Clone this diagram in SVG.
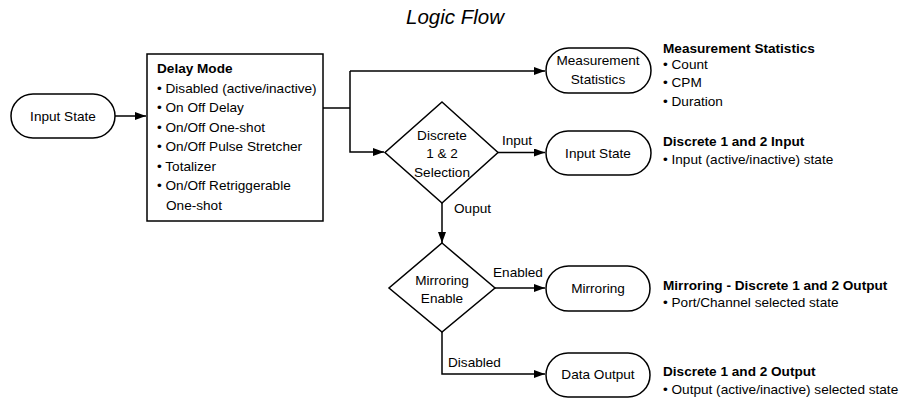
<svg xmlns="http://www.w3.org/2000/svg" width="902" height="398" viewBox="0 0 902 398">
<defs>
<style>
text{font-family:"Liberation Sans",Arial,sans-serif;font-size:13.6px;fill:#000}
.c{text-anchor:middle}
.b{font-weight:bold}
.title{font-size:20.5px;font-style:italic}
.shape{fill:#fff;stroke:#000;stroke-width:1.5}
.conn{fill:none;stroke:#000;stroke-width:1.5}
</style>
<marker id="ah" markerUnits="userSpaceOnUse" markerWidth="12" markerHeight="10" refX="11" refY="4" orient="auto">
<path d="M0,0 L11,4 L0,8 Z" fill="#000"/>
</marker>
</defs>
<rect width="902" height="398" fill="#fff"/>
<text class="title c" x="455" y="24">Logic Flow</text>

<g id="connectors">
<path class="conn" d="M115,116 H146" marker-end="url(#ah)"/>
<path class="conn" d="M323,108 H350"/>
<path class="conn" d="M350,71 V152 H384" marker-end="url(#ah)"/>
<path class="conn" d="M350,71 H545" marker-end="url(#ah)"/>
<path class="conn" d="M498,152.5 H545" marker-end="url(#ah)"/>
<path class="conn" d="M442,203 V243" marker-end="url(#ah)"/>
<path class="conn" d="M495,288 H545" marker-end="url(#ah)"/>
<path class="conn" d="M442,332 V374 H545" marker-end="url(#ah)"/>
<text x="517" y="145" class="c">Input</text>
<text x="454" y="213">Ouput</text>
<text x="518" y="277" class="c">Enabled</text>
<text x="448" y="367">Disabled</text>
</g>

<g id="input-state-left">
<rect class="shape" x="11" y="94" width="104" height="44" rx="22"/>
<text class="c" x="63" y="121">Input State</text>
</g>

<g id="delay-mode">
<rect class="shape" x="147" y="54" width="176" height="167"/>
<text class="b" x="157" y="73">Delay Mode</text>
<text x="157" y="92.5">• Disabled (active/inactive)</text>
<text x="157" y="112">• On Off Delay</text>
<text x="157" y="131.5">• On/Off One-shot</text>
<text x="157" y="151">• On/Off Pulse Stretcher</text>
<text x="157" y="170.5">• Totalizer</text>
<text x="157" y="190">• On/Off Retriggerable</text>
<text x="166" y="209.5">One-shot</text>
</g>

<g id="measurement-statistics">
<rect class="shape" x="546" y="48" width="105" height="45" rx="22.5"/>
<text class="c" x="598" y="65">Measurement</text>
<text class="c" x="598" y="84">Statistics</text>
</g>

<g id="discrete-selection">
<polygon class="shape" points="442,102 498,152.5 442,203 385,152.5"/>
<text class="c" x="442" y="140">Discrete</text>
<text class="c" x="442" y="158">1 &amp; 2</text>
<text class="c" x="442" y="176.5">Selection</text>
</g>

<g id="input-state-right">
<rect class="shape" x="546" y="131" width="105" height="44" rx="22"/>
<text class="c" x="598" y="157.5">Input State</text>
</g>

<g id="mirroring-enable">
<polygon class="shape" points="442,243 495,288 442,332 389,288"/>
<text class="c" x="442" y="285">Mirroring</text>
<text class="c" x="442" y="302.5">Enable</text>
</g>

<g id="mirroring">
<rect class="shape" x="546" y="266" width="104" height="45" rx="22.5"/>
<text class="c" x="598" y="293">Mirroring</text>
</g>

<g id="data-output">
<rect class="shape" x="546" y="353" width="104" height="44" rx="22"/>
<text class="c" x="598" y="379">Data Output</text>
</g>

<g id="notes">
<text class="b" x="663" y="53">Measurement Statistics</text>
<text x="663" y="68.5">• Count</text>
<text x="663" y="87">• CPM</text>
<text x="663" y="105.5">• Duration</text>
<text class="b" x="663" y="146">Discrete 1 and 2 Input</text>
<text x="663" y="164">• Input (active/inactive) state</text>
<text class="b" x="663" y="289.5">Mirroring - Discrete 1 and 2 Output</text>
<text x="663" y="307">• Port/Channel selected state</text>
<text class="b" x="663" y="376">Discrete 1 and 2 Output</text>
<text x="663" y="394">• Output (active/inactive) selected state</text>
</g>
</svg>
